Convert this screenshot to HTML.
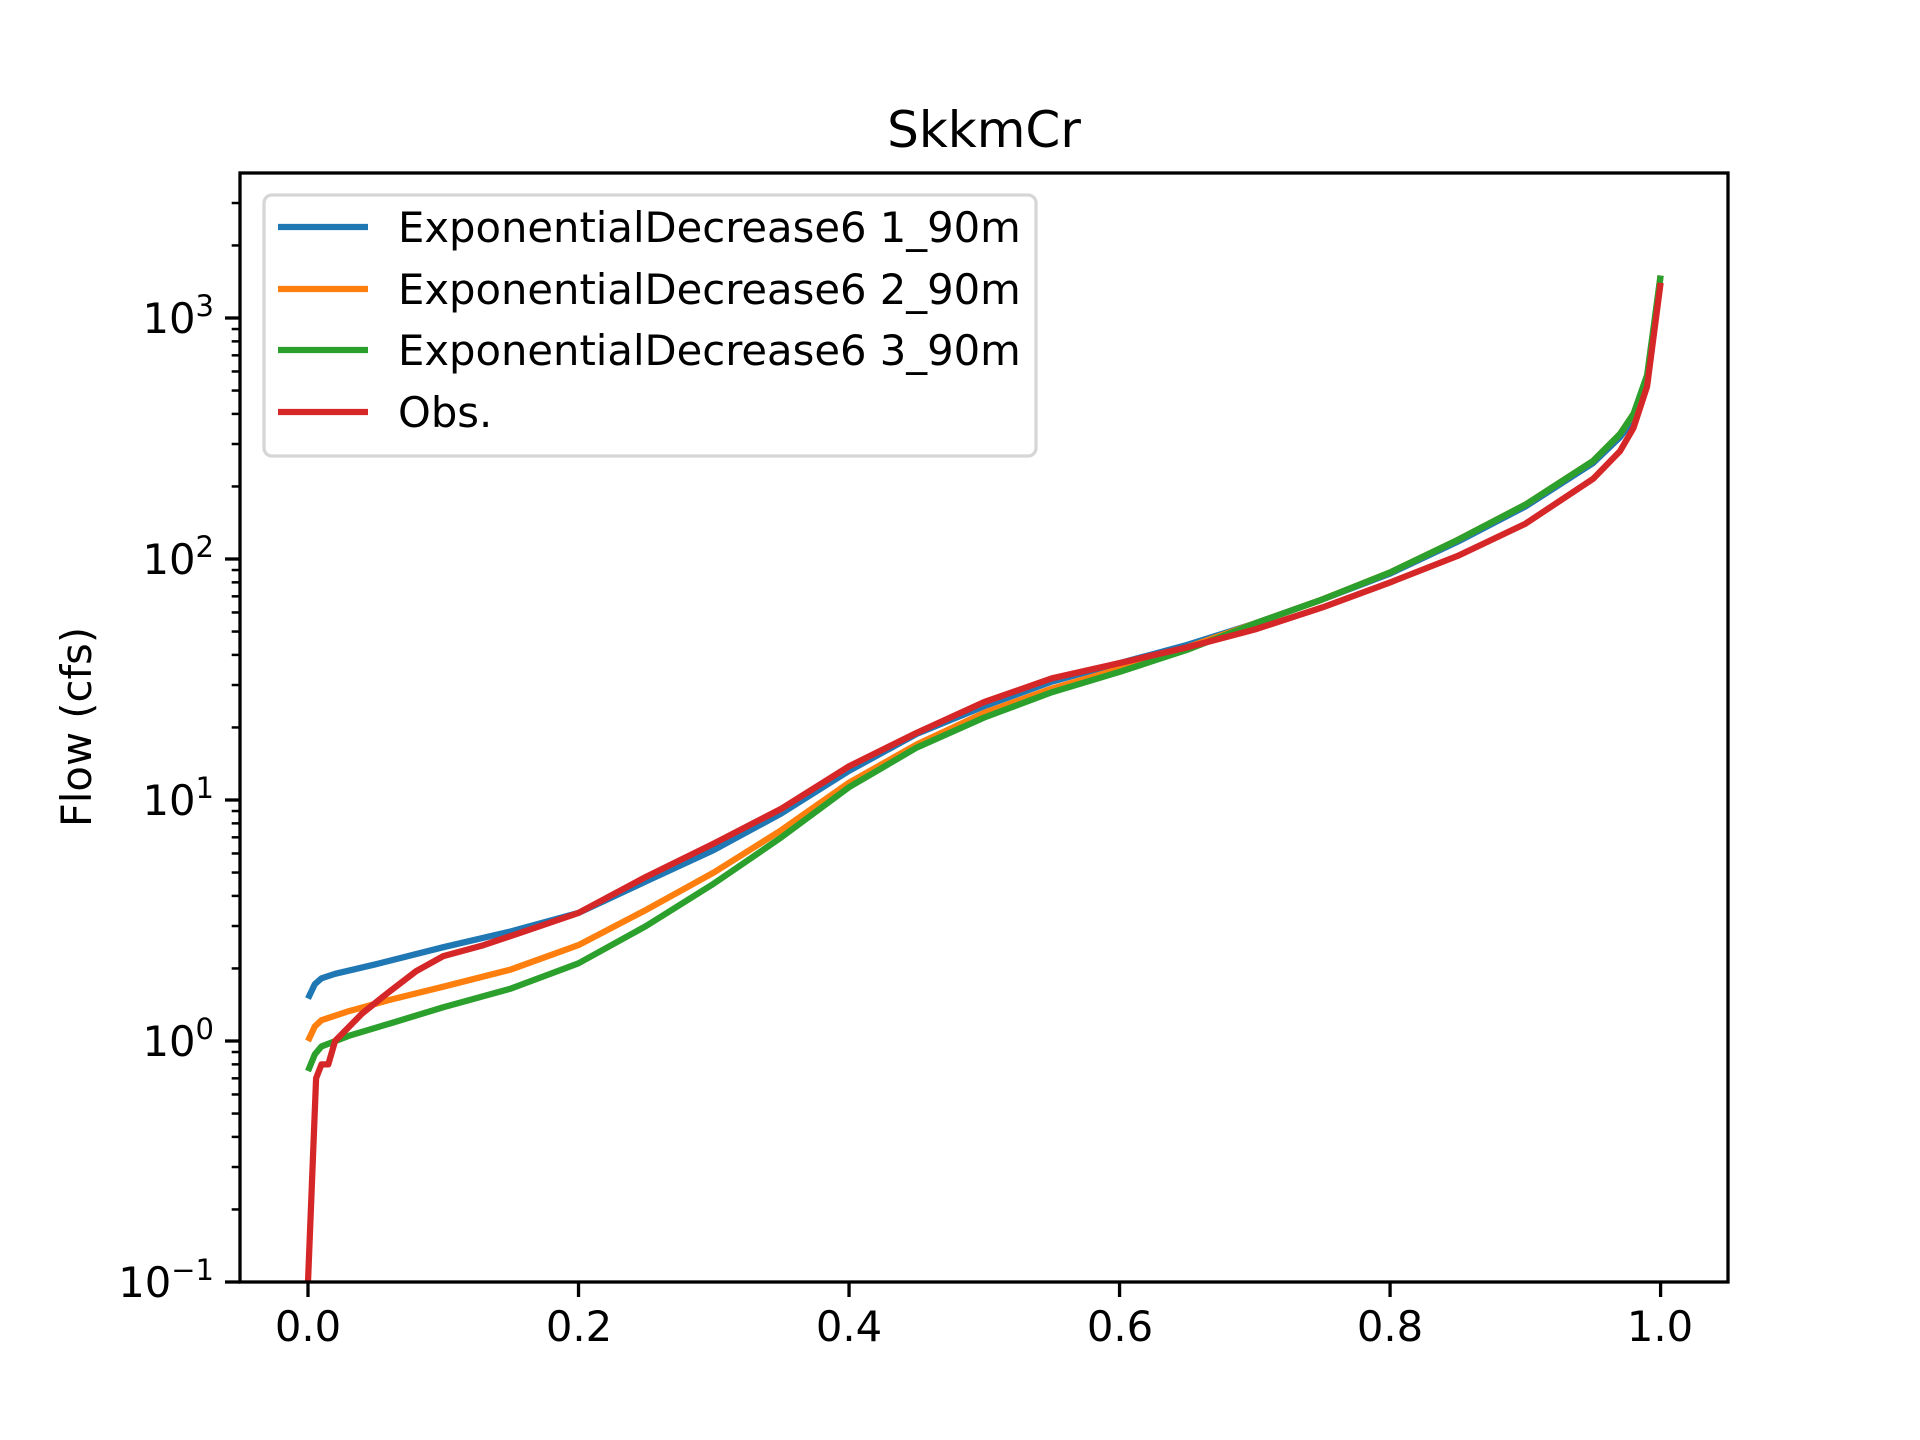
<!DOCTYPE html>
<html><head><meta charset="utf-8"><style>
html,body{margin:0;padding:0;background:#fff;}
svg{display:block;}
text{font-family:"DejaVu Sans","Liberation Sans",sans-serif;fill:#000;}
</style></head><body>
<svg id="s" width="1920" height="1440" viewBox="0 0 1920 1440" xmlns="http://www.w3.org/2000/svg">
<rect width="1920" height="1440" fill="#fff"/>
<g id="ticks"></g>
<g id="series" fill="none" stroke-width="6.25" stroke-linejoin="round" stroke-linecap="butt"></g>
<rect x="240" y="173" width="1488" height="1109" fill="none" stroke="#000" stroke-width="3.3"/>
<text x="984" y="147" font-size="50" text-anchor="middle">SkkmCr</text>
<text transform="translate(91,727) rotate(-90)" font-size="41.7" text-anchor="middle">Flow (cfs)</text>
<g font-size="41.7" text-anchor="middle">
<text x="308" y="1341">0.0</text><text x="579" y="1341">0.2</text><text x="849" y="1341">0.4</text>
<text x="1120" y="1341">0.6</text><text x="1390" y="1341">0.8</text><text x="1660" y="1341">1.0</text>
</g>
<g font-size="41.7" text-anchor="end">
<text x="214" y="1297">10<tspan dy="-17" font-size="29">−1</tspan></text>
<text x="214" y="1056">10<tspan dy="-17" font-size="29">0</tspan></text>
<text x="214" y="815">10<tspan dy="-17" font-size="29">1</tspan></text>
<text x="214" y="574">10<tspan dy="-17" font-size="29">2</tspan></text>
<text x="214" y="333">10<tspan dy="-17" font-size="29">3</tspan></text>
</g>
<rect x="264" y="195" width="772" height="261" rx="8" fill="#fff" fill-opacity="0.8" stroke="#d6d6d6" stroke-width="3.3"/>
<g stroke-width="6.25">
<line x1="278" y1="227" x2="368" y2="227" stroke="#1f77b4"/>
<line x1="278" y1="289" x2="368" y2="289" stroke="#ff7f0e"/>
<line x1="278" y1="350" x2="368" y2="350" stroke="#2ca02c"/>
<line x1="278" y1="412" x2="368" y2="412" stroke="#d62728"/>
</g>
<g font-size="41.7">
<text x="398" y="242">ExponentialDecrease6 1_90m</text>
<text x="398" y="304">ExponentialDecrease6 2_90m</text>
<text x="398" y="365">ExponentialDecrease6 3_90m</text>
<text x="398" y="427">Obs.</text>
</g>
</svg>
<script>
var NS="http://www.w3.org/2000/svg";
function X(v){return 308+v*1352.6;}
function Y(v){return 1282-(Math.log10(v)+1)*241;}
var t=document.getElementById("ticks"),h="";
[0,0.2,0.4,0.6,0.8,1.0].forEach(function(v){h+='<line x1="'+X(v)+'" y1="1282" x2="'+X(v)+'" y2="1297" stroke="#000" stroke-width="3.3"/>';});
for(var d=-1;d<=3;d++){for(var m=1;m<10;m++){var v=m*Math.pow(10,d);var y=Y(v);if(y<173)continue;
var L=(m==1)?15:8.3;var w=(m==1)?3.3:2.5;h+='<line x1="'+(240-L)+'" y1="'+y+'" x2="240" y2="'+y+'" stroke="#000" stroke-width="'+w+'"/>';}}
t.innerHTML=h;
var data={
"#1f77b4":[[0,1.5],[0.005,1.72],[0.01,1.82],[0.02,1.9],[0.05,2.08],[0.1,2.45],[0.15,2.85],[0.2,3.4],[0.25,4.6],[0.3,6.2],[0.35,8.8],[0.4,13.2],[0.45,18.8],[0.5,24.5],[0.55,31],[0.6,37],[0.65,44],[0.7,54],[0.75,68],[0.8,87],[0.85,118],[0.9,165],[0.95,250],[0.97,320],[0.98,380],[0.99,550],[1.0,1500]],
"#ff7f0e":[[0,1.0],[0.005,1.15],[0.01,1.22],[0.03,1.33],[0.06,1.48],[0.1,1.68],[0.15,1.98],[0.2,2.5],[0.25,3.5],[0.3,5.0],[0.35,7.5],[0.4,11.8],[0.45,17],[0.5,23],[0.55,29],[0.6,35],[0.65,43],[0.7,54],[0.75,68],[0.8,88],[0.85,120],[0.9,168],[0.95,255],[0.97,330],[0.98,400],[0.99,570],[1.0,1500]],
"#2ca02c":[[0,0.75],[0.005,0.88],[0.01,0.95],[0.03,1.05],[0.06,1.18],[0.1,1.38],[0.15,1.65],[0.2,2.1],[0.25,3.0],[0.3,4.5],[0.35,7.0],[0.4,11.3],[0.45,16.5],[0.5,22],[0.55,28],[0.6,34],[0.65,42],[0.7,54],[0.75,68],[0.8,88],[0.85,120],[0.9,168],[0.95,255],[0.97,330],[0.98,400],[0.99,580],[1.0,1500]],
"#d62728":[[0,0.1],[0.006,0.7],[0.01,0.8],[0.015,0.8],[0.02,1.0],[0.04,1.3],[0.06,1.6],[0.08,1.95],[0.1,2.25],[0.13,2.5],[0.16,2.85],[0.2,3.4],[0.25,4.8],[0.3,6.6],[0.35,9.2],[0.4,13.8],[0.45,19],[0.5,25.5],[0.55,32],[0.6,37],[0.65,43],[0.7,51],[0.75,63],[0.8,80],[0.85,103],[0.9,140],[0.95,215],[0.97,280],[0.98,350],[0.99,520],[1.0,1400]]};
var g=document.getElementById("series");
Object.keys(data).forEach(function(c){
var p=data[c],d="";
p.forEach(function(q,i){d+=(i?"L":"M")+X(q[0]).toFixed(1)+","+Y(q[1]).toFixed(1);});
var e=document.createElementNS(NS,"path");e.setAttribute("d",d);e.setAttribute("stroke",c);g.appendChild(e);});
</script>
</body></html>
